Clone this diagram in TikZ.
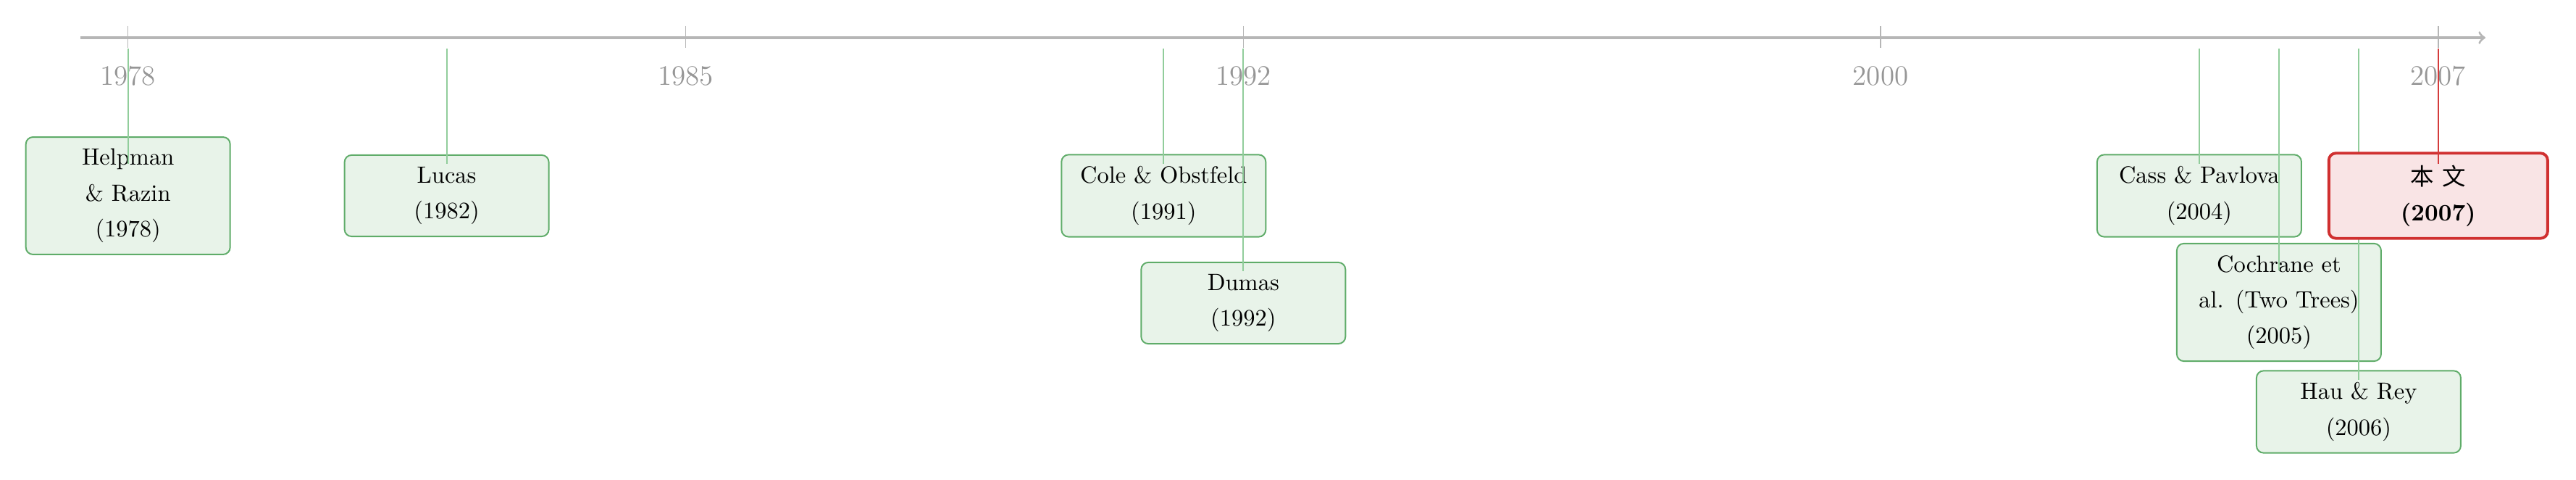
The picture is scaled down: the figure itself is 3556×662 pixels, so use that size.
\documentclass[tikz,border=0pt]{standalone}
\usepackage{fontspec}
\newfontfamily\cjk{Noto Sans CJK SC}
\definecolor{gborder}{RGB}{95,172,105}
\definecolor{gfill}{RGB}{232,243,233}
\definecolor{gline}{RGB}{145,205,155}
\definecolor{rborder}{RGB}{208,48,48}
\definecolor{rfill}{RGB}{249,228,229}
\definecolor{rline}{RGB}{212,60,60}
\definecolor{axisgray}{RGB}{182,182,182}
\definecolor{labelgray}{RGB}{150,150,150}
\begin{document}
\begin{tikzpicture}[x=0.30788pt,y=-0.30788pt,
  event/.style={draw=gborder, fill=gfill, line width=0.6pt, rounded corners=3pt,
    text width=2.7cm, align=center, inner sep=5pt,
    font=\fontsize{10}{15.2}\selectfont},
  keyevent/.style={event, draw=rborder, fill=rfill, line width=1.2pt, text width=83pt},
  stem/.style={gline, line width=0.6pt},
  keystem/.style={rline, line width=0.6pt},
  axisline/.style={axisgray, line width=1pt},
  yeartick/.style={axisgray, line width=0.45pt},
  yearlabel/.style={text=labelgray, anchor=base, inner sep=0pt, font=\large}]
\useasboundingbox (0,0) rectangle (3556,662);

% axis
\coordinate (axs) at (111,52);
\coordinate (axe) at (3431,52);
\draw[axisline,->] (axs) -- (axe);

% ticks and labels
\foreach \x/\yr in {176.7/1978, 946.5/1985, 1716.3/1992, 2596.0/2000, 3365.8/2007}{
  \coordinate (t\yr a) at (\x,36);
  \coordinate (t\yr b) at (\x,66);
  \draw[yeartick] (t\yr a) -- (t\yr b);
  \node[yearlabel] (l\yr) at (\x,118) {\yr};
}

% stem starts
\foreach \x/\yr in {176.7/1978, 616.6/1982, 1606.3/1991, 1716.3/1992, 3035.9/2004, 3145.9/2005, 3255.9/2006, 3365.8/2007}{
  \coordinate (s\yr) at (\x,67);
}

\node[event] (helpman) at (176.7,270) {Helpman\\ \& Razin\\ (1978)};
\draw[stem] (s1978) -- ([yshift=13.55pt]helpman.center);

\node[event] (lucas) at (616.6,270) {Lucas\\ (1982)};
\draw[stem] (s1982) -- ([yshift=13.55pt]lucas.center);

\node[event] (cole) at (1606.3,270) {Cole \& Obstfeld\\ (1991)};
\draw[stem] (s1991) -- ([yshift=13.55pt]cole.center);

\node[event] (dumas) at (1716.3,418) {Dumas\\ (1992)};
\draw[stem] (s1992) -- ([yshift=13.55pt]dumas.center);

\node[event] (cass) at (3035.9,270) {Cass \& Pavlova\\ (2004)};
\draw[stem] (s2004) -- ([yshift=13.55pt]cass.center);

\node[event] (cochrane) at (3145.9,417) {Cochrane et\\ al. (Two Trees)\\ (2005)};
\draw[stem] (s2005) -- ([yshift=13.55pt]cochrane.center);

\node[event] (hau) at (3255.9,568) {Hau \& Rey\\ (2006)};
\draw[stem] (s2006) -- ([yshift=13.55pt]hau.center);

\node[keyevent] (this) at (3365.8,270) {{\cjk 本} {\cjk 文}\\ \textbf{(2007)}};
\draw[keystem] (s2007) -- ([yshift=13.55pt]this.center);
\end{tikzpicture}
\end{document}
